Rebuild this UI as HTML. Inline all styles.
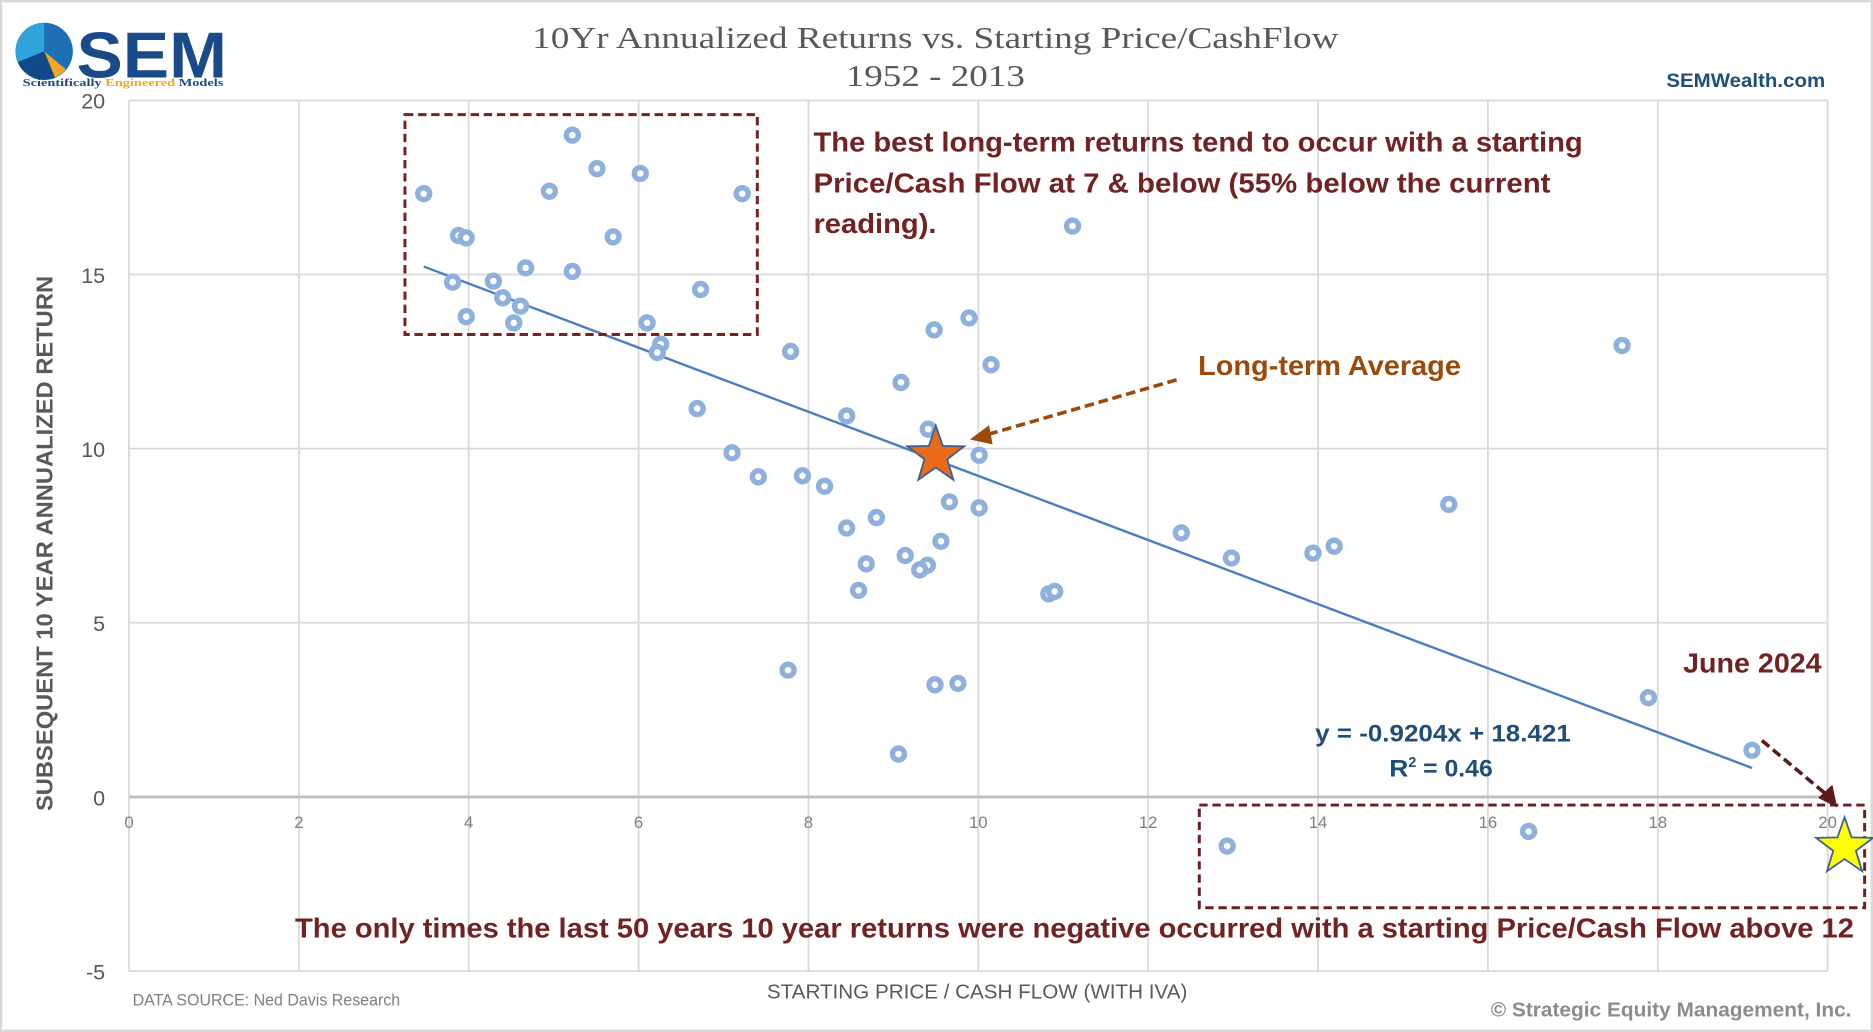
<!DOCTYPE html>
<html><head><meta charset="utf-8">
<style>
html,body{margin:0;padding:0;background:#fff;}
svg{display:block;}
</style></head>
<body>
<svg id="chart" width="1873" height="1032" viewBox="0 0 1568 864" preserveAspectRatio="none" xmlns="http://www.w3.org/2000/svg">
<rect x="1" y="1" width="1566" height="862" fill="#fff" stroke="#d9d9d9" stroke-width="2"/>
<g id="grid"></g>
<g id="axes"></g>
<g id="trend"></g>
<g id="points"></g>

<!-- logo -->
<g>
<circle cx="37" cy="43" r="24" fill="#1f6fb5"/>
<path d="M37 43 L37 19 A24 24 0 0 0 15 52 Z" fill="#2ea3dc"/>
<path d="M37 43 L55 58 A24 24 0 0 1 46 65 Z" fill="#f5a623"/>
<path d="M37 43 L15 52 A24 24 0 0 0 46 65 Z" fill="#104a8a"/>
<text x="64" y="65" font-family="Liberation Sans, sans-serif" font-weight="bold" font-size="54" fill="#1b4a8a" textLength="126" lengthAdjust="spacingAndGlyphs">SEM</text>
<text x="19" y="72" font-family="Liberation Serif, serif" font-weight="bold" font-size="9" fill="#1b4a8a" textLength="168" lengthAdjust="spacingAndGlyphs">Scientifically <tspan fill="#f5a623">Engineered</tspan> Models</text>
</g>

<text x="783" y="40" text-anchor="middle" font-family="Liberation Serif, serif" font-size="26" fill="#595959" textLength="675" lengthAdjust="spacingAndGlyphs">10Yr Annualized Returns vs. Starting Price/CashFlow</text>
<text x="783" y="72" text-anchor="middle" font-family="Liberation Serif, serif" font-size="26" fill="#595959" textLength="150" lengthAdjust="spacingAndGlyphs">1952 - 2013</text>
<text x="1528" y="73" text-anchor="end" font-family="Liberation Sans, sans-serif" font-weight="bold" font-size="16" fill="#1f4e79" textLength="133" lengthAdjust="spacingAndGlyphs">SEMWealth.com</text>

<text transform="translate(44,455) rotate(-90)" text-anchor="middle" font-family="Liberation Sans, sans-serif" font-weight="bold" font-size="19" fill="#595959" textLength="448" lengthAdjust="spacingAndGlyphs">SUBSEQUENT 10 YEAR ANNUALIZED RETURN</text>
<text x="818" y="836" text-anchor="middle" font-family="Liberation Sans, sans-serif" font-size="17" fill="#595959" textLength="352" lengthAdjust="spacingAndGlyphs">STARTING PRICE / CASH FLOW (WITH IVA)</text>
<text x="111" y="842" font-family="Liberation Sans, sans-serif" font-size="14" fill="#7f7f7f" textLength="224" lengthAdjust="spacingAndGlyphs">DATA SOURCE: Ned Davis Research</text>
<text x="1550" y="851" text-anchor="end" font-family="Liberation Sans, sans-serif" font-weight="bold" font-size="17" fill="#8c8c8c" textLength="302" lengthAdjust="spacingAndGlyphs">© Strategic Equity Management, Inc.</text>

<!-- annotations -->
<rect x="339" y="96" width="295" height="184" fill="none" stroke="#7b2020" stroke-width="2.5" stroke-dasharray="7,4"/>
<rect x="1004" y="674" width="557" height="86" fill="none" stroke="#6b1f1f" stroke-width="2.5" stroke-dasharray="7,4"/>
<g font-family="Liberation Sans, sans-serif" font-weight="bold" font-size="23" fill="#722222">
<text x="681" y="127" textLength="644" lengthAdjust="spacingAndGlyphs">The best long-term returns tend to occur with a starting</text>
<text x="681" y="161" textLength="617" lengthAdjust="spacingAndGlyphs">Price/Cash Flow at 7 &amp; below (55% below the current</text>
<text x="681" y="195" textLength="103" lengthAdjust="spacingAndGlyphs">reading).</text>
<text x="247" y="785" textLength="1305" lengthAdjust="spacingAndGlyphs">The only times the last 50 years 10 year returns were negative occurred with a starting Price/Cash Flow above 12</text>
<text x="1409" y="563" textLength="116" lengthAdjust="spacingAndGlyphs">June 2024</text>
<text x="1003" y="314" fill="#9c4a0c" textLength="220" lengthAdjust="spacingAndGlyphs">Long-term Average</text>
</g>
<g font-family="Liberation Sans, sans-serif" font-weight="bold" font-size="20" fill="#1f4e79">
<text x="1101" y="621" textLength="214" lengthAdjust="spacingAndGlyphs">y = -0.9204x + 18.421</text>
<text x="1163" y="650"><tspan textLength="16" lengthAdjust="spacingAndGlyphs">R</tspan><tspan font-size="12" dy="-8">2</tspan><tspan dy="8" textLength="64" lengthAdjust="spacingAndGlyphs"> = 0.46</tspan></text>
</g>
<line x1="985" y1="318" x2="826" y2="364" stroke="#9c4a0c" stroke-width="3" stroke-dasharray="8,4"/>
<polygon points="812,368 828,356 831,372" fill="#9c4a0c"/>
<line x1="1475" y1="620" x2="1530" y2="666" stroke="#5c1a1a" stroke-width="3" stroke-dasharray="8,4"/>
<polygon points="1538,676 1522,668 1534,657" fill="#5c1a1a"/>
<g id="stars"></g>
</svg>
<script>
const xVals=[3.47,3.88,3.97,3.81,4.29,4.40,4.61,3.97,4.53,4.67,5.22,4.95,5.51,6.02,5.70,5.22,7.22,6.73,6.10,6.26,6.22,7.79,11.11,9.48,9.89,10.15,9.09,6.69,8.45,9.41,10.01,7.10,7.41,7.93,8.19,9.66,10.01,8.80,8.45,9.56,9.14,8.68,9.40,9.31,8.59,10.83,10.90,12.39,12.98,13.94,14.19,15.54,17.58,7.76,9.49,9.76,9.06,17.89,19.11,12.93,16.48];
const yVals=[17.32,16.12,16.05,14.78,14.81,14.33,14.09,13.79,13.61,15.19,19.0,17.39,18.04,17.9,16.08,15.09,17.32,14.57,13.61,13.0,12.76,12.79,16.39,13.41,13.75,12.41,11.9,11.15,10.94,10.56,9.81,9.88,9.19,9.22,8.92,8.47,8.30,8.02,7.72,7.34,6.93,6.69,6.65,6.52,5.93,5.83,5.90,7.58,6.86,7.0,7.2,8.40,12.96,3.64,3.22,3.26,1.23,2.85,1.34,-1.41,-0.99];
const xTicks=[0,2,4,6,8,10,12,14,16,18,20];
const yTicks=[-5,0,5,10,15,20];
const trendSlope=-0.9204, trendIntercept=18.421;
const trendRange=[3.47,19.11];
const avgPoint=[9.5,9.8];
const currentPoint=[20.2,-1.44];

const NS='http://www.w3.org/2000/svg';
const X0=108,X1=1530,Y0=813,Y1=84;
const sx=v=>X0+(v-0)/(20-0)*(X1-X0);
const sy=v=>Y0-(v+5)/(25)*(Y0-Y1);
function mk(tag,attrs,parent){const e=document.createElementNS(NS,tag);for(const k in attrs)e.setAttribute(k,attrs[k]);parent.appendChild(e);return e;}
const grid=document.getElementById('grid'),axes=document.getElementById('axes');
xTicks.forEach(t=>{
  const l=mk('line',{x1:sx(t),x2:sx(t),y1:Y1,y2:Y0,stroke:'#d9d9d9','stroke-width':1.5},grid);
  
  
  const tx=mk('text',{x:sx(t),y:sy(0)+26,'text-anchor':'middle','font-family':'Liberation Sans, sans-serif','font-size':14,fill:'#7f7f7f'},axes);
  tx.textContent=t;
  
  
});
yTicks.forEach(t=>{
  const l=mk('line',{x1:X0,x2:X1,y1:sy(t),y2:sy(t),stroke:t===0?'#bfbfbf':'#d9d9d9','stroke-width':t===0?2.5:1.5},grid);
  
  
  const tx=mk('text',{x:88,y:sy(t)+7,'text-anchor':'end','font-family':'Liberation Sans, sans-serif','font-size':18,fill:'#595959'},axes);
  tx.textContent=t;
  
  
});
const tr=document.getElementById('trend');
const tl=mk('line',{x1:sx(trendRange[0]),y1:sy(trendSlope*trendRange[0]+trendIntercept),x2:sx(trendRange[1]),y2:sy(trendSlope*trendRange[1]+trendIntercept),stroke:'#4a7ebf','stroke-width':2},tr);


const pts=document.getElementById('points');
xVals.forEach((x,i)=>{
  const c=mk('circle',{cx:sx(x),cy:sy(yVals[i]),r:5,fill:'#fff',stroke:'#8eb0dc','stroke-width':4.5},pts);
  
  
});
function star(cx,cy,R,r){let p=[];for(let i=0;i<10;i++){const a=-Math.PI/2+i*Math.PI/5,rr=i%2?r:R;p.push((cx+rr*Math.cos(a)).toFixed(1)+','+(cy+rr*Math.sin(a)).toFixed(1));}return p.join(' ');}
const st=document.getElementById('stars');
const s1=mk('polygon',{points:star(sx(avgPoint[0]),sy(avgPoint[1]),25,10),fill:'#e86a1a',stroke:'#3f5f8f','stroke-width':1.5},st);


const s2=mk('polygon',{points:star(sx(currentPoint[0]),sy(currentPoint[1]),25,10),fill:'#ffff00',stroke:'#3f5f8f','stroke-width':1.5},st);


</script>
</body></html>
